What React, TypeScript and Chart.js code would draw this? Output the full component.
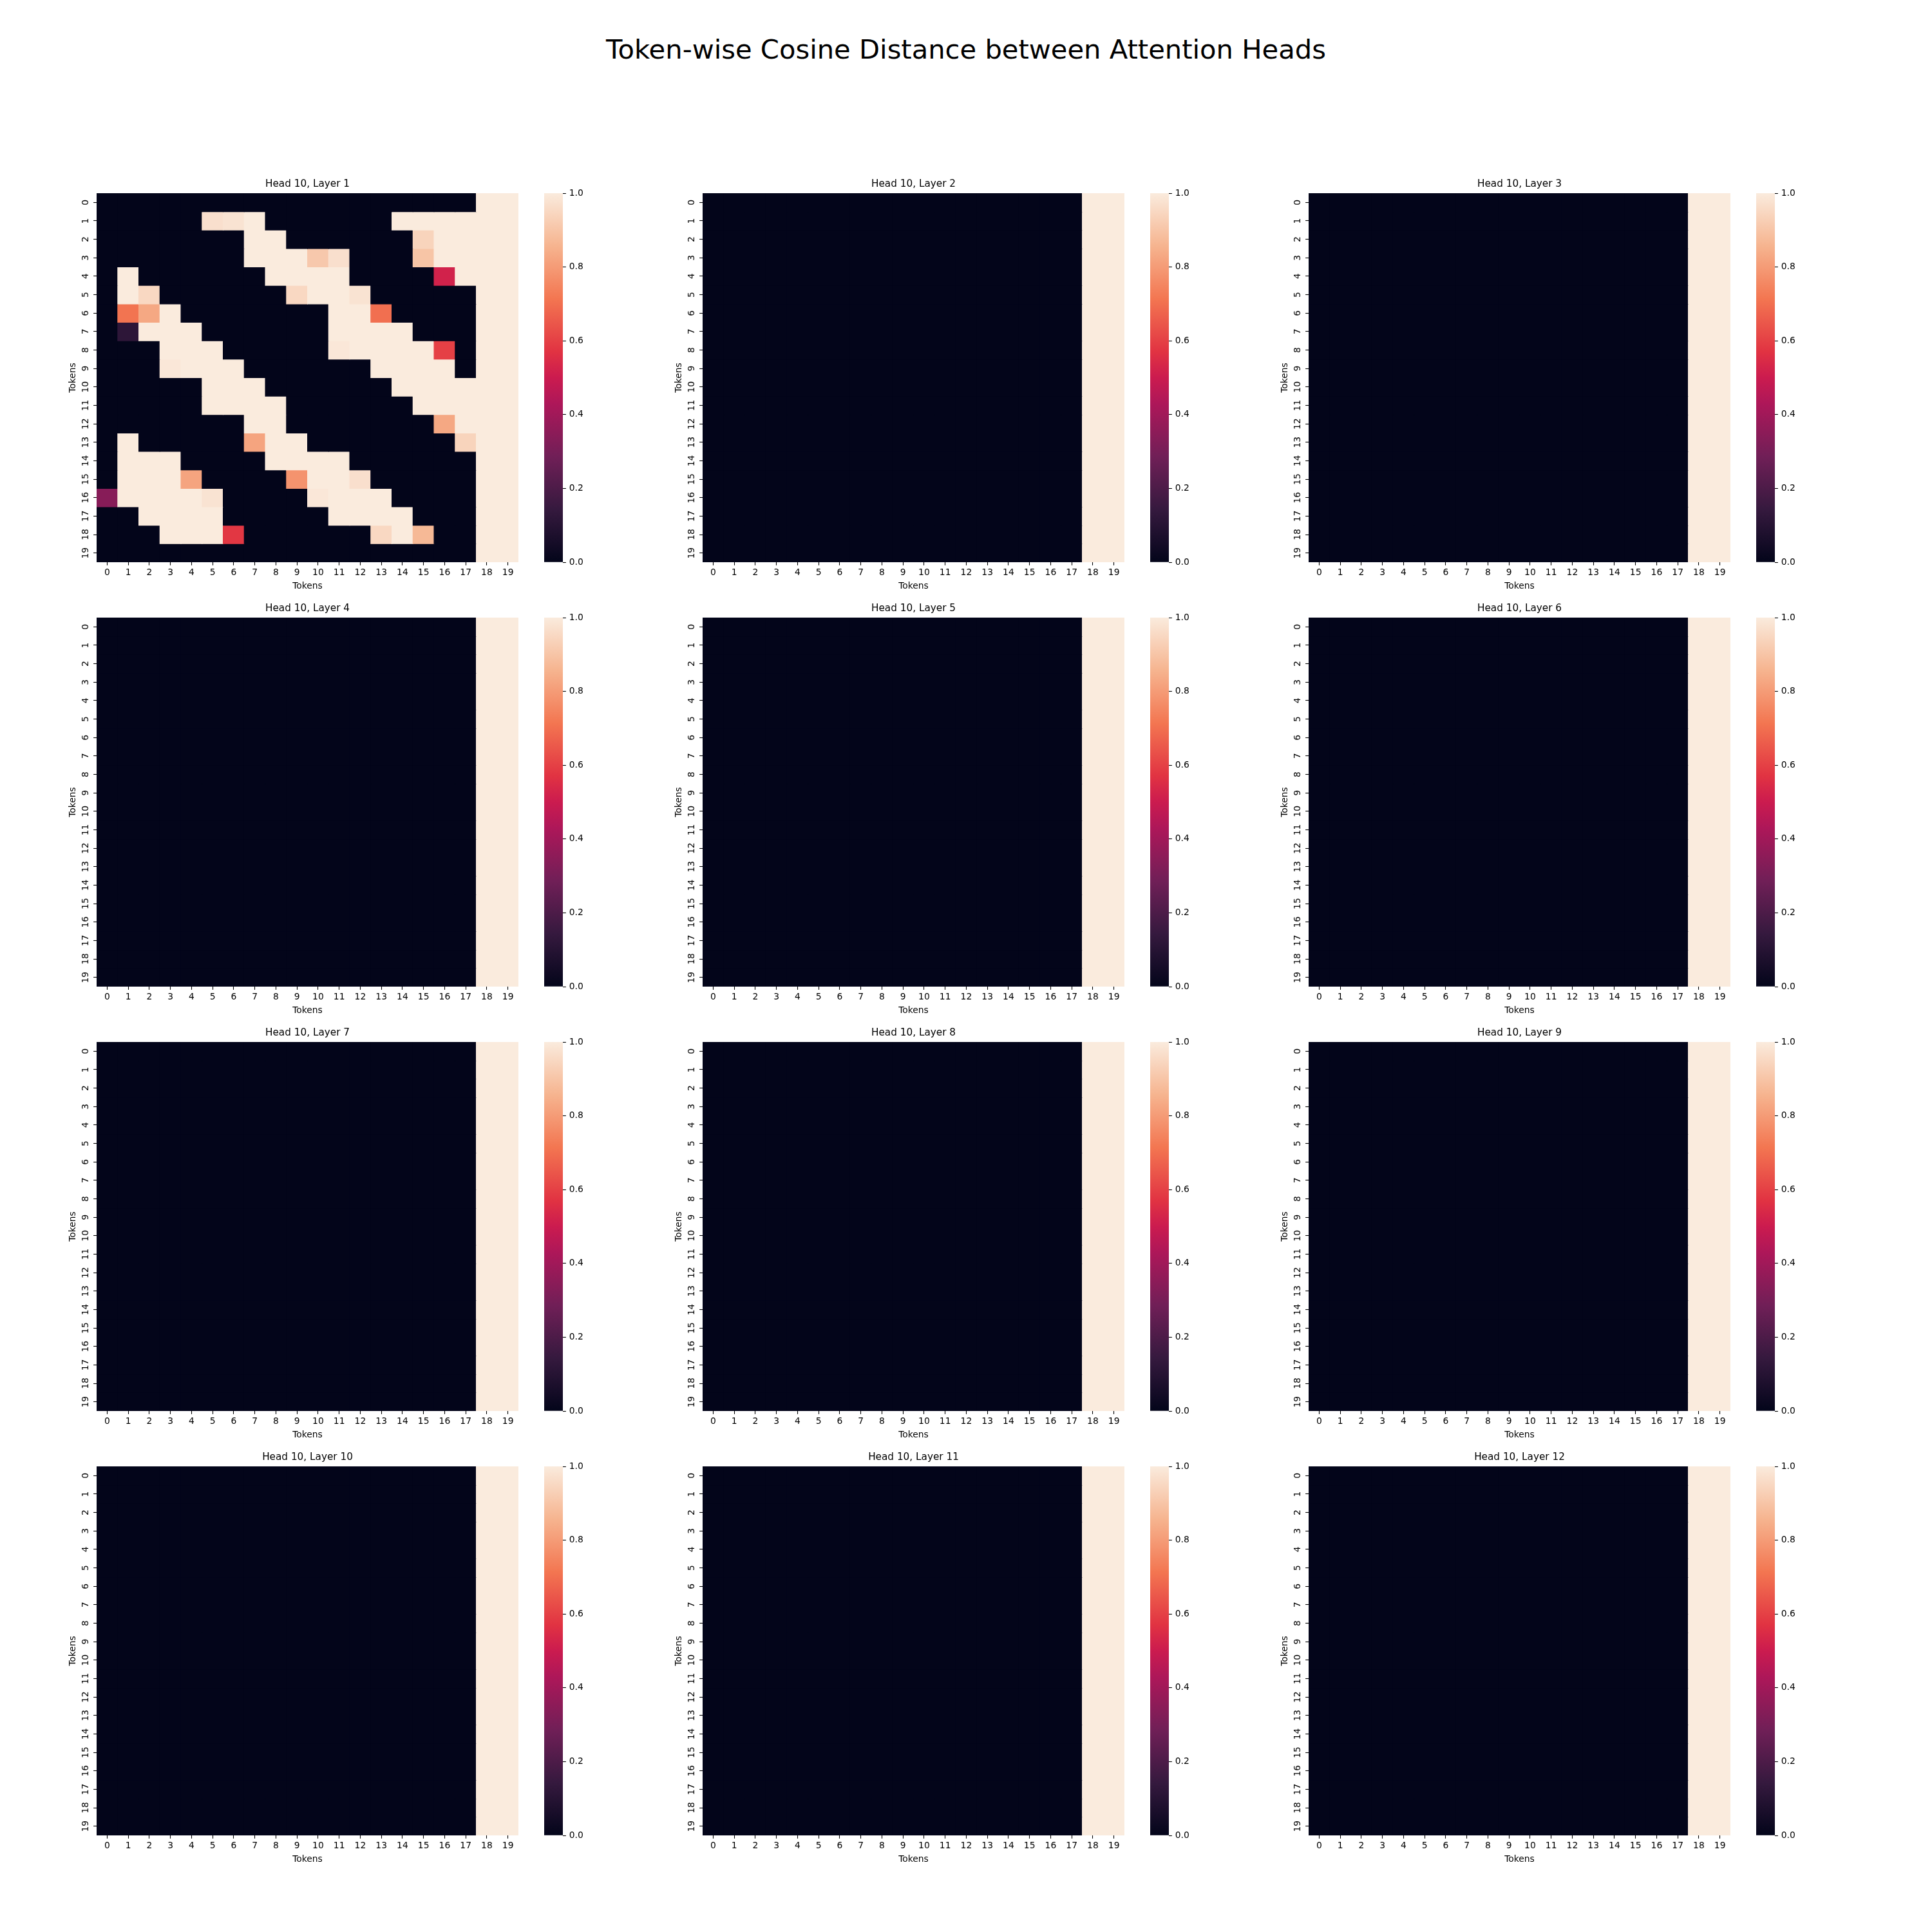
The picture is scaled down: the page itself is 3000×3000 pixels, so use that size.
import React, { useEffect, useRef } from 'react';
import { Chart, registerables } from 'chart.js';

Chart.register(...registerables);

// ---------------- data ----------------
const FIG_TITLE = 'Token-wise Cosine Distance between Attention Heads';
const HEAD = 10;
const LAYERS = [1, 2, 3, 4, 5, 6, 7, 8, 9, 10, 11, 12];
const TOKENS = ['0', '1', '2', '3', '4', '5', '6', '7', '8', '9', '10', '11', '12', '13', '14', '15', '16', '17', '18', '19'];
const AXIS_LABEL = 'Tokens';
const VMIN = 0;
const VMAX = 1;
const COLORBAR_TICKS = [0, 0.2, 0.4, 0.6, 0.8, 1.0];

// Layer 1: token-wise cosine distance (rows = tokens, cols = tokens)
const LAYER1 = [
  [0, 0, 0, 0, 0, 0, 0, 0, 0, 0, 0, 0, 0, 0, 0, 0, 0, 0, 1, 1],
  [0, 0, 0, 0, 0, 0.97, 0.98, 1, 0, 0, 0, 0, 0, 0, 1, 1, 1, 1, 1, 1],
  [0, 0, 0, 0, 0, 0, 0, 1, 1, 0, 0, 0, 0, 0, 0, 0.94, 1, 1, 1, 1],
  [0, 0, 0, 0, 0, 0, 0, 1, 1, 1, 0.91, 0.97, 0, 0, 0, 0.9, 1, 1, 1, 1],
  [0, 1, 0, 0, 0, 0, 0, 0, 1, 1, 1, 1, 0, 0, 0, 0, 0.52, 1, 1, 1],
  [0, 1, 0.95, 0, 0, 0, 0, 0, 0, 0.95, 1, 1, 0.98, 0, 0, 0, 0, 0, 1, 1],
  [0, 0.71, 0.83, 1, 0, 0, 0, 0, 0, 0, 0, 1, 1, 0.7, 0, 0, 0, 0, 1, 1],
  [0, 0.12, 1, 1, 1, 0, 0, 0, 0, 0, 0, 1, 1, 1, 1, 0, 0, 0, 1, 1],
  [0, 0, 0, 1, 1, 1, 0, 0, 0, 0, 0, 0.99, 1, 1, 1, 1, 0.6, 0, 1, 1],
  [0, 0, 0, 0.99, 1, 1, 1, 0, 0, 0, 0, 0, 0, 1, 1, 1, 1, 0, 1, 1],
  [0, 0, 0, 0, 0, 1, 1, 1, 0, 0, 0, 0, 0, 0, 1, 1, 1, 1, 1, 1],
  [0, 0, 0, 0, 0, 1, 1, 1, 1, 0, 0, 0, 0, 0, 0, 1, 1, 1, 1, 1],
  [0, 0, 0, 0, 0, 0, 0, 1, 1, 0, 0, 0, 0, 0, 0, 0, 0.83, 1, 1, 1],
  [0, 1, 0, 0, 0, 0, 0, 0.82, 1, 1, 0, 0, 0, 0, 0, 0, 0, 0.94, 1, 1],
  [0, 1, 1, 1, 0, 0, 0, 0, 1, 1, 1, 1, 0, 0, 0, 0, 0, 0, 1, 1],
  [0, 1, 1, 1, 0.82, 0, 0, 0, 0, 0.78, 1, 1, 0.97, 0, 0, 0, 0, 0, 1, 1],
  [0.34, 1, 1, 1, 1, 0.98, 0, 0, 0, 0, 0.99, 1, 1, 1, 0, 0, 0, 0, 1, 1],
  [0, 0, 1, 1, 1, 1, 0, 0, 0, 0, 0, 1, 1, 1, 1, 0, 0, 0, 1, 1],
  [0, 0, 0, 1, 1, 1, 0.58, 0, 0, 0, 0, 0, 0, 0.95, 1, 0.87, 0, 0, 1, 1],
  [0, 0, 0, 0, 0, 0, 0, 0, 0, 0, 0, 0, 0, 0, 0, 0, 0, 0, 1, 1],
];

// Layers 2..12: every token row reads the same in the picture
const LATER_LAYER_ROW = [0, 0, 0, 0, 0, 0, 0, 0, 0, 0, 0, 0, 0, 0, 0, 0, 0, 0, 1, 1];
const LATER_LAYERS = LAYERS.slice(1).map(() => TOKENS.map(() => LATER_LAYER_ROW));
const MATRICES = [LAYER1, ...LATER_LAYERS];

// seaborn "rocket" colormap stops
const ROCKET: [number, string][] = [
  [0, '#03051a'],
  [1 / 7, '#35193e'],
  [2 / 7, '#701f57'],
  [3 / 7, '#ad1759'],
  [0.5, '#cb1b4f'],
  [4 / 7, '#e13342'],
  [5 / 7, '#f37651'],
  [6 / 7, '#f6b48f'],
  [1, '#faebdd'],
];

// ---------------- layout / style ----------------
const FONT = 'DejaVu Sans';
const TICK_FS = 13.89;
const TITLE_FS = 15.28;
const COL_LEFT = [150, 1091, 2032];
const ROW_TOP = [300, 959, 1618, 2277];
const PLOT_W = 655;
const PLOT_H = 573;
const Y_AXIS_W = 100;
const X_AXIS_H = 50;
const TITLE_PAD_TOP = 13.2;
const TITLE_PAD_BOTTOM = 4.45;
const TITLE_BOX = TITLE_PAD_TOP + TITLE_FS * 1.2 + TITLE_PAD_BOTTOM;
const CB_GAP = 40;
const CB_W = 29;
const CB_AXIS_W = 60;
const CB_PAD = 20;

function hexToRgb(h: string) {
  return [parseInt(h.slice(1, 3), 16), parseInt(h.slice(3, 5), 16), parseInt(h.slice(5, 7), 16)];
}

function rocket(v: number) {
  const t = Math.min(1, Math.max(0, (v - VMIN) / (VMAX - VMIN)));
  for (let i = 1; i < ROCKET.length; i++) {
    const [p1, c1] = ROCKET[i];
    if (t <= p1) {
      const [p0, c0] = ROCKET[i - 1];
      const f = (t - p0) / (p1 - p0);
      const a = hexToRgb(c0);
      const b = hexToRgb(c1);
      const rgb = a.map((x, k) => Math.round(x + (b[k] - x) * f));
      return `rgb(${rgb[0]},${rgb[1]},${rgb[2]})`;
    }
  }
  return ROCKET[ROCKET.length - 1][1];
}

const tickFont = { family: FONT, size: TICK_FS, weight: 'normal' as const, lineHeight: 1.2 };
const tickGrid = {
  display: true,
  drawOnChartArea: false,
  drawTicks: true,
  tickLength: 4.86,
  tickWidth: 1.1,
  tickColor: '#000',
  offset: false,
};

function Heatmap({ matrix, title, left, top }: { matrix: number[][]; title: string; left: number; top: number }) {
  const ref = useRef<HTMLCanvasElement>(null);
  const width = Y_AXIS_W + PLOT_W;
  const height = Math.round(TITLE_BOX + PLOT_H + X_AXIS_H);
  const topOffset = height - PLOT_H - X_AXIS_H;
  useEffect(() => {
    const canvas = ref.current!;
    const datasets = matrix.map((row, r) => ({
      label: TOKENS[r],
      data: row.map(() => 1),
      backgroundColor: row.map((v) => rocket(v)),
      borderWidth: 0,
      inflateAmount: 0.5,
      clip: 0,
      barPercentage: 1,
      categoryPercentage: 1,
    }));
    const chart = new Chart(canvas, {
      type: 'bar',
      data: { labels: TOKENS, datasets },
      options: {
        responsive: false,
        animation: false,
        devicePixelRatio: 1,
        events: [],
        layout: { padding: { top: topOffset - TITLE_BOX, left: 0, right: 0, bottom: 0 } },
        plugins: {
          legend: { display: false },
          tooltip: { enabled: false },
          title: {
            display: true,
            fullSize: false,
            text: title,
            color: '#000',
            font: { family: FONT, size: TITLE_FS, weight: 'normal', lineHeight: 1.2 },
            padding: { top: TITLE_PAD_TOP, bottom: TITLE_PAD_BOTTOM },
          },
        },
        scales: {
          x: {
            type: 'category',
            stacked: true,
            offset: true,
            grid: tickGrid,
            border: { display: false },
            ticks: { color: '#000', font: tickFont, padding: 3, maxRotation: 0, minRotation: 0, autoSkip: false },
            title: { display: true, text: AXIS_LABEL, color: '#000', font: tickFont, padding: { top: 0, bottom: 4.5 } },
            afterFit: (s: any) => {
              s.height = X_AXIS_H;
            },
          },
          y: {
            type: 'linear',
            stacked: true,
            min: 0,
            max: TOKENS.length,
            reverse: true,
            afterBuildTicks: (s: any) => {
              s.ticks = TOKENS.map((_, i) => ({ value: i + 0.5 }));
            },
            grid: tickGrid,
            border: { display: false },
            ticks: {
              color: '#000',
              font: tickFont,
              padding: 3,
              minRotation: 90,
              maxRotation: 90,
              autoSkip: false,
              crossAlign: 'center',
              callback: (_v: any, i: number) => TOKENS[i],
            },
            title: { display: true, text: AXIS_LABEL, color: '#000', font: tickFont, padding: { top: 54.6, bottom: 0 } },
            afterFit: (s: any) => {
              s.width = Y_AXIS_W;
            },
          },
        },
      } as any,
    });
    return () => chart.destroy();
  }, [matrix, title]);
  return (
    <canvas
      ref={ref}
      width={width}
      height={height}
      style={{ position: 'absolute', left: left - Y_AXIS_W, top: top - topOffset, width, height }}
    />
  );
}

function Colorbar({ left, top }: { left: number; top: number }) {
  const ref = useRef<HTMLCanvasElement>(null);
  const width = CB_W + CB_AXIS_W;
  const height = PLOT_H + 2 * CB_PAD;
  useEffect(() => {
    const canvas = ref.current!;
    const chart = new Chart(canvas, {
      type: 'bar',
      data: {
        labels: [''],
        datasets: [
          {
            data: [[VMIN, VMAX]],
            backgroundColor: (ctx: any) => {
              const area = ctx.chart.chartArea;
              if (!area) return ROCKET[0][1];
              const g = ctx.chart.ctx.createLinearGradient(0, area.bottom, 0, area.top);
              ROCKET.forEach(([p, c]) => g.addColorStop(p, c));
              return g;
            },
            borderWidth: 0,
            barPercentage: 1,
            categoryPercentage: 1,
            clip: 0,
          },
        ],
      },
      options: {
        responsive: false,
        animation: false,
        devicePixelRatio: 1,
        events: [],
        layout: { padding: { top: CB_PAD, bottom: CB_PAD, left: 0, right: 0 } },
        plugins: { legend: { display: false }, tooltip: { enabled: false } },
        scales: {
          x: { display: false },
          y: {
            position: 'right',
            min: VMIN,
            max: VMAX,
            afterBuildTicks: (s: any) => {
              s.ticks = COLORBAR_TICKS.map((v) => ({ value: v }));
            },
            grid: tickGrid,
            border: { display: false },
            ticks: {
              color: '#000',
              font: tickFont,
              padding: 4.86,
              autoSkip: false,
              callback: (v: any) => Number(v).toFixed(1),
            },
            afterFit: (s: any) => {
              s.width = CB_AXIS_W;
            },
          },
        },
      } as any,
    });
    return () => chart.destroy();
  }, []);
  return (
    <canvas
      ref={ref}
      width={width}
      height={height}
      style={{ position: 'absolute', left, top: top - CB_PAD, width, height }}
    />
  );
}

export default function App() {
  return (
    <div style={{ position: 'absolute', left: 0, top: 0, width: 3000, height: 3000, background: '#fff' }}>
      <div
        style={{
          position: 'absolute',
          left: 0,
          top: 56,
          width: 3000,
          textAlign: 'center',
          fontFamily: `"${FONT}"`,
          fontSize: 41.67,
          lineHeight: '41.67px',
          color: '#000',
          whiteSpace: 'nowrap',
        }}
      >
        {FIG_TITLE}
      </div>
      {MATRICES.map((m, i) => {
        const r = Math.floor(i / 3);
        const c = i % 3;
        const left = COL_LEFT[c];
        const top = ROW_TOP[r];
        return (
          <React.Fragment key={i}>
            <Heatmap matrix={m} title={`Head ${HEAD}, Layer ${LAYERS[i]}`} left={left} top={top} />
            <Colorbar left={left + PLOT_W + CB_GAP} top={top} />
          </React.Fragment>
        );
      })}
    </div>
  );
}
